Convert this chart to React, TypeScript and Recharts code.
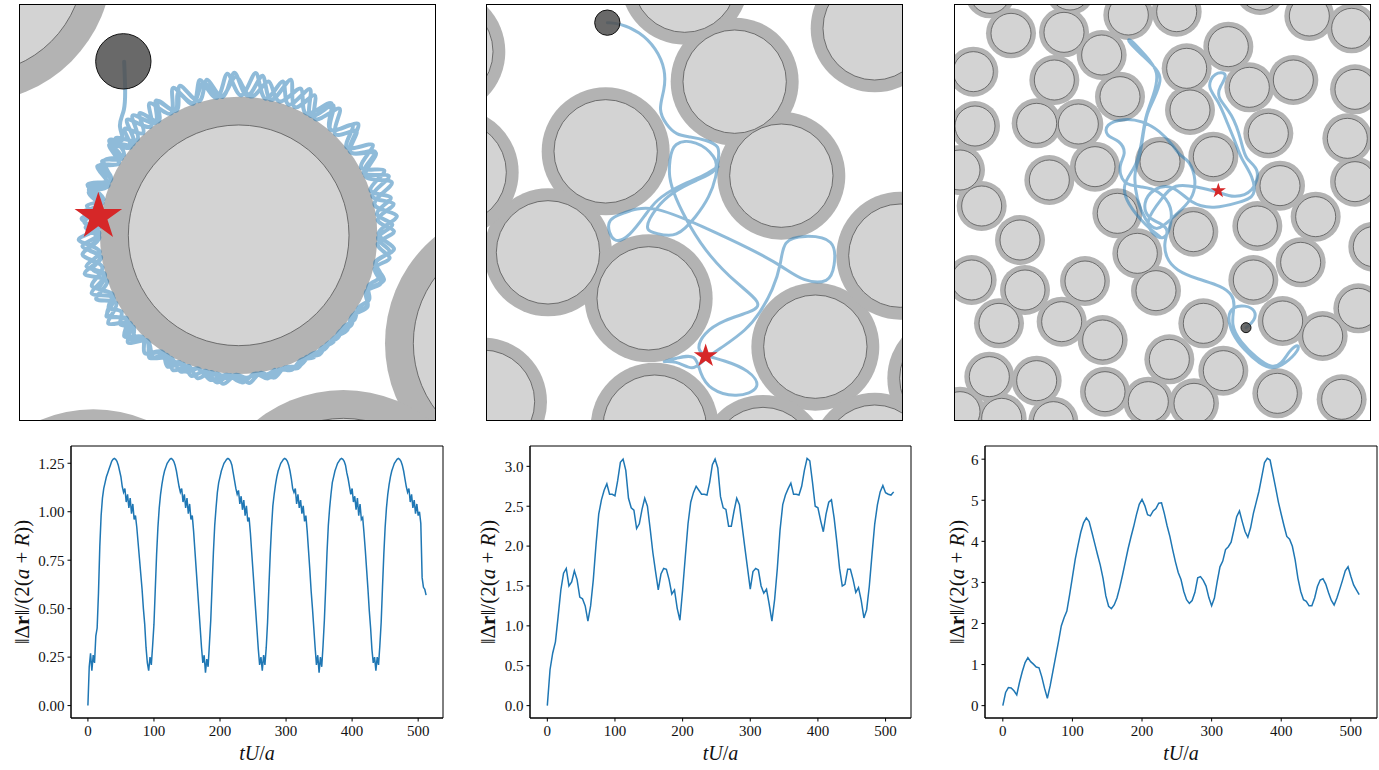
import { LineChart, Line, XAxis, YAxis, ScatterChart, Scatter, ReferenceArea } from "recharts";

const SERIF = '"Liberation Serif", "DejaVu Serif", serif';
const BLUE = "#1f77b4";

// ---- distance curves (bottom row) ----
// orbit case, sampled every 2 time units (t = 0..512)
const distOrbit = [
  0.00, 0.20, 0.27, 0.18, 0.26, 0.22, 0.36, 0.40, 0.58, 0.82,
  0.98, 1.07, 1.12, 1.15, 1.18, 1.20, 1.22, 1.24, 1.26, 1.27,
  1.275, 1.27, 1.26, 1.24, 1.21, 1.18, 1.13, 1.10, 1.12, 1.05,
  1.09, 1.02, 1.07, 0.99, 1.04, 0.96, 0.98, 0.92, 0.84, 0.76,
  0.68, 0.60, 0.50, 0.42, 0.30, 0.22,
  0.18, 0.25, 0.21, 0.31, 0.42, 0.60, 0.78, 0.92, 1.02, 1.09,
  1.14, 1.18, 1.21, 1.23, 1.25, 1.26, 1.27, 1.275, 1.27, 1.26,
  1.24, 1.21, 1.17, 1.13, 1.10, 1.12, 1.05, 1.09, 1.02, 1.07,
  0.99, 1.04, 0.96, 0.98, 0.90, 0.80, 0.70, 0.60, 0.50, 0.40,
  0.30, 0.22, 0.26,
  0.17, 0.24, 0.20, 0.32, 0.44, 0.62, 0.79, 0.93, 1.02, 1.10,
  1.15, 1.18, 1.21, 1.23, 1.25, 1.26, 1.27, 1.275, 1.27, 1.26,
  1.24, 1.20, 1.16, 1.12, 1.09, 1.11, 1.04, 1.08, 1.01, 1.06,
  0.98, 1.03, 0.95, 0.97, 0.89, 0.79, 0.69, 0.59, 0.49, 0.39,
  0.29, 0.21, 0.25,
  0.18, 0.26, 0.21, 0.30, 0.43, 0.61, 0.78, 0.92, 1.03, 1.09,
  1.14, 1.18, 1.21, 1.23, 1.25, 1.26, 1.27, 1.275, 1.27, 1.26,
  1.24, 1.21, 1.17, 1.12, 1.10, 1.12, 1.04, 1.09, 1.02, 1.06,
  0.99, 1.03, 0.95, 0.98, 0.90, 0.80, 0.70, 0.59, 0.50, 0.40,
  0.30, 0.21, 0.26,
  0.17, 0.25, 0.20, 0.31, 0.44, 0.61, 0.79, 0.93, 1.02, 1.09,
  1.15, 1.18, 1.21, 1.23, 1.25, 1.26, 1.27, 1.275, 1.27, 1.26,
  1.24, 1.20, 1.17, 1.13, 1.09, 1.12, 1.05, 1.08, 1.01, 1.07,
  0.98, 1.04, 0.96, 0.97, 0.89, 0.80, 0.70, 0.60, 0.49, 0.40,
  0.29, 0.22, 0.25,
  0.18, 0.25, 0.21, 0.31, 0.43, 0.61, 0.78, 0.92, 1.02, 1.09,
  1.14, 1.18, 1.21, 1.23, 1.25, 1.26, 1.27, 1.275, 1.27, 1.26,
  1.24, 1.21, 1.17, 1.13, 1.10, 1.12, 1.05, 1.09, 1.02, 1.06,
  0.99, 1.04, 0.98, 1.00, 0.94, 0.66, 0.61, 0.60, 0.57,
];

// channel and lattice cases, sampled every 4 time units (t = 0..512)
const distChannel = [
  0.00, 0.45, 0.66, 0.80, 1.12, 1.45, 1.66, 1.72, 1.50, 1.55,
  1.69, 1.58, 1.36, 1.34, 1.25, 1.06, 1.25, 1.58, 2.02, 2.40,
  2.58, 2.70, 2.78, 2.65, 2.65, 2.63, 2.82, 3.05, 3.09, 2.95,
  2.60, 2.48, 2.45, 2.22, 2.28, 2.46, 2.60, 2.50, 2.22, 1.92,
  1.68, 1.45, 1.65, 1.72, 1.71, 1.58, 1.40, 1.45, 1.22, 1.07,
  1.45, 1.87, 2.28, 2.55, 2.67, 2.75, 2.70, 2.65, 2.65, 2.64,
  2.80, 3.02, 3.09, 2.98, 2.62, 2.48, 2.46, 2.25, 2.25, 2.44,
  2.60, 2.52, 2.25, 1.98, 1.72, 1.46, 1.68, 1.72, 1.70, 1.50,
  1.41, 1.46, 1.27, 1.06, 1.33, 1.72, 2.20, 2.52, 2.64, 2.72,
  2.79, 2.65, 2.65, 2.64, 2.75, 2.95, 3.10, 3.07, 2.80, 2.50,
  2.48, 2.32, 2.18, 2.40, 2.55, 2.58, 2.35, 2.05, 1.72, 1.50,
  1.52, 1.71, 1.71, 1.58, 1.42, 1.48, 1.32, 1.10, 1.20, 1.50,
  1.90, 2.28, 2.52, 2.68, 2.76, 2.67, 2.65, 2.64, 2.68,
];

const distLattice = [
  0.00, 0.32, 0.44, 0.43, 0.36, 0.26, 0.57, 0.83, 1.05, 1.17,
  1.07, 1.01, 0.94, 0.92, 0.70, 0.42, 0.18, 0.48, 0.84, 1.20,
  1.56, 1.94, 2.14, 2.30, 2.70, 3.13, 3.56, 3.90, 4.22, 4.45,
  4.57, 4.48, 4.22, 3.95, 3.68, 3.42, 3.10, 2.67, 2.42, 2.36,
  2.45, 2.62, 2.88, 3.18, 3.50, 3.82, 4.10, 4.36, 4.65, 4.90,
  5.02, 4.87, 4.65, 4.62, 4.74, 4.80, 4.93, 4.94, 4.68, 4.38,
  4.12, 3.80, 3.50, 3.24, 3.07, 2.78, 2.58, 2.49, 2.56, 2.76,
  3.11, 3.14, 3.05, 2.91, 2.63, 2.43, 2.62, 3.02, 3.38, 3.52,
  3.80, 3.87, 3.98, 4.28, 4.60, 4.74, 4.48, 4.24, 4.10, 4.33,
  4.68, 4.95, 5.22, 5.57, 5.92, 6.02, 5.98, 5.64, 5.30, 4.95,
  4.66, 4.38, 4.12, 4.05, 3.88, 3.55, 3.10, 2.78, 2.58, 2.54,
  2.43, 2.43, 2.62, 2.90, 3.06, 3.09, 2.96, 2.75, 2.56, 2.45,
  2.62, 2.83, 3.05, 3.28, 3.38, 3.15, 2.94, 2.82, 2.70,
];

const timeTicks = [0, 100, 200, 300, 400, 500];
const orbitTicks = [0, 0.25, 0.5, 0.75, 1.0, 1.25];
const channelTicks = [0, 0.5, 1.0, 1.5, 2.0, 2.5, 3.0];
const latticeTicks = [0, 1, 2, 3, 4, 5, 6];

// ---- maps (top row), in image units (3 units per pixel, y downwards) ----
const orbitCentre = [716, 706];
const orbitObstacles = [[716, 706], [-80, -110], [1571, 1030], [1030, 1586], [280, 1644]];
const orbitSwimmer = [370, 184];
const orbitStar = [295, 650];
// trajectory read as (angle in degrees, distance from the obstacle centre)
const orbitPolar = [
  [123.4, 624], [127.4, 561], [132.5, 510], [137.5, 483], [141, 452],
  [144, 480], [149, 420], [154, 472], [159, 418], [164, 468], [169, 420], [174, 474], [179, 418], [184, 470], [189, 420],
  [194, 476], [199, 418], [204, 468], [209, 420], [214, 472], [219, 418], [224, 462], [229, 420], [234, 455], [239, 418],
  [244, 450], [249, 420], [254, 446], [259, 418], [264, 448], [269, 420], [274, 444], [279, 418], [284, 440], [289, 420],
  [294, 436], [299, 418], [304, 432], [309, 420], [314, 428], [319, 418], [324, 430], [329, 420], [334, 436], [339, 418],
  [344, 445], [349, 420], [354, 455], [359, 418], [364, 462], [369, 420], [374, 470], [379, 418], [384, 478], [389, 420],
  [394, 485], [399, 418], [404, 476], [409, 420], [414, 482], [419, 418], [424, 488], [429, 420], [434, 480], [439, 418],
  [444, 490], [449, 420], [454, 486], [459, 418], [464, 480], [469, 420], [474, 484], [479, 418], [484, 478], [489, 420],
  [494, 482], [499, 418], [504, 476],
  [506.5, 420], [511.5, 466], [516.5, 418], [521.5, 478], [526.5, 420], [531.5, 470], [536.5, 418], [541.5, 480],
  [546.5, 420], [551.5, 466], [556.5, 418], [561.5, 474], [566.5, 420], [571.5, 465], [576.5, 418], [581.5, 458],
  [586.5, 420], [591.5, 452], [596.5, 418], [601.5, 448], [606.5, 420], [611.5, 445], [616.5, 418], [621.5, 446],
  [626.5, 420], [631.5, 442], [636.5, 418], [641.5, 438], [646.5, 420], [651.5, 434], [656.5, 418], [661.5, 430],
  [666.5, 420], [671.5, 428], [676.5, 418], [681.5, 432], [686.5, 420], [691.5, 440], [696.5, 418], [701.5, 450],
  [706.5, 420], [711.5, 458], [716.5, 418], [721.5, 466], [726.5, 420], [731.5, 474], [736.5, 418], [741.5, 484],
  [746.5, 420], [751.5, 480], [756.5, 418], [761.5, 472], [766.5, 420], [771.5, 486], [776.5, 418], [781.5, 478],
  [786.5, 420], [791.5, 492], [796.5, 418], [801.5, 484], [806.5, 420], [811.5, 488], [816.5, 418], [821.5, 476],
  [826.5, 420], [831.5, 482], [836.5, 418], [841.5, 474], [846.5, 420], [851.5, 480], [856.5, 418], [861.5, 470],
  [865, 420], [871, 462], [877, 418], [883, 470], [889, 420], [895, 465], [901, 418], [907, 472], [913, 420],
  [919, 466], [925, 418], [931, 460], [937, 420], [943, 452], [949, 418], [955, 447], [961, 420], [967, 444],
  [973, 418], [979, 442], [985, 420], [991, 440], [997, 418], [1003, 436], [1009, 420], [1015, 432], [1021, 418],
  [1027, 428], [1033, 420], [1039, 432], [1045, 418], [1051, 442], [1057, 420], [1063, 456], [1069, 418], [1075, 468],
  [1081, 420], [1087, 478], [1093, 418], [1099, 486], [1105, 420], [1111, 480], [1117, 418], [1123, 490], [1129, 420],
  [1135, 484], [1141, 418], [1147, 478], [1153, 420], [1159, 470], [1165, 418], [1171, 476], [1177, 420], [1183, 470],
  [1189, 418], [1193, 465], [1197, 420], [1201, 470], [1205, 418], [1209, 472], [1213, 420], [1217, 468], [1221, 418],
  [1225, 474], [1229, 420], [1233, 466], [1237, 418], [1241, 470], [1245, 420], [1249, 464], [1253, 418], [1257, 460],
  [1261, 420], [1265, 455], [1269, 418], [1273, 450], [1277, 420], [1281, 447], [1285, 418], [1289, 446], [1293, 420],
  [1297, 444], [1301, 418], [1305, 445], [1309, 420], [1313, 442], [1317, 418], [1321, 440], [1325, 420], [1329, 438],
  [1333, 418], [1337, 434], [1341, 420], [1345, 430], [1349, 418], [1353, 428], [1357, 420], [1361, 426], [1365, 418],
];

const channelObstacles = [
  [645, -58], [795, 245], [1215, 85], [408, 454], [935, 527], [235, 757], [537, 895], [1037, 1040],
  [1292, 767], [-85, 155], [-45, 517], [40, 1205], [555, 1280], [880, 1377], [1215, 1370], [1445, 1135],
];
const channelSwimmer = [413, 68];
const channelStar = [708, 1068];
const channelPath = [
  [413, 68], [450, 70], [510, 95], [560, 145], [588, 210], [585, 270], [565, 330], [590, 375], [620, 405],
  [660, 410], [710, 420], [752, 438], [745, 480], [740, 530], [720, 590], [680, 650], [620, 715], [560, 700],
  [520, 690], [560, 620], [610, 575], [680, 540], [745, 515], [740, 470], [680, 420], [610, 425], [600, 480],
  [597, 530], [615, 590], [660, 680], [720, 770], [800, 850], [880, 910], [850, 935], [760, 960], [700, 1000],
  [680, 1050], [708, 1068], [760, 1080], [840, 1110], [880, 1165], [800, 1195], [720, 1170], [690, 1120],
  [680, 1060], [620, 1075], [565, 1088], [620, 1080], [670, 1115], [700, 1080], [760, 1040], [830, 990],
  [870, 940], [910, 870], [935, 790], [940, 720], [1000, 705], [1100, 715], [1095, 800], [1080, 850],
  [1000, 845], [940, 800], [850, 750], [700, 680], [540, 610], [460, 640], [405, 660], [430, 735], [480, 710],
  [530, 640], [560, 600], [620, 560], [700, 530], [745, 500],
];

const latticeObstacles = [
  [150, -20], [213, 100], [372, 97], [390, -30], [565, 45], [710, 35], [960, -30], [1108, 48], [1235, 85],
  [100, 215], [485, 165], [343, 240], [540, 290], [740, 205], [865, 140], [928, 262], [1060, 240], [1245, 268],
  [105, 378], [290, 370], [415, 372], [750, 330], [985, 400], [1222, 415], [60, 510], [465, 500], [660, 485],
  [820, 470], [1020, 557], [1245, 545], [125, 618], [328, 540], [532, 640], [760, 695], [952, 678], [1127, 650],
  [1300, 740], [240, 720], [592, 760], [95, 840], [255, 870], [435, 843], [648, 872], [940, 840], [1082, 787],
  [1255, 925], [177, 970], [365, 965], [488, 1020], [790, 970], [1028, 963], [1148, 1008], [688, 1078],
  [850, 1112], [148, 1130], [290, 1142], [495, 1175], [625, 1205], [762, 1210], [1012, 1180], [1205, 1198],
  [60, 1235], [185, 1255], [340, 1265],
];
const latticeSwimmer = [918, 983];
const latticeStar = [835, 572];
const latticePath = [
  [918, 983], [945, 962], [948, 930], [915, 915], [878, 920], [862, 948], [875, 1000], [912, 1050], [960, 1093],
  [998, 1108], [1035, 1092], [1078, 1050], [1075, 1030], [1048, 1052], [1025, 1092], [995, 1105], [950, 1075],
  [900, 1025], [872, 975], [885, 915], [878, 885], [845, 858], [775, 838], [708, 812], [676, 772], [672, 722],
  [688, 690], [660, 668], [622, 655], [608, 610], [638, 565], [700, 552], [752, 612], [820, 628], [905, 605],
  [948, 590], [940, 530], [902, 475], [888, 430], [862, 370], [835, 300], [800, 262], [822, 215], [868, 218],
  [838, 262], [830, 292], [878, 342], [905, 425], [915, 480], [962, 505], [942, 578], [880, 595], [835, 575],
  [770, 560], [702, 550], [668, 592], [612, 665], [640, 705], [672, 720], [690, 690], [700, 620], [655, 570],
  [610, 560], [545, 555], [535, 492], [560, 462], [540, 420], [497, 410], [495, 372], [552, 355], [605, 362],
  [660, 392], [702, 440], [722, 470], [748, 480], [770, 540], [758, 600], [700, 650], [650, 700], [615, 660],
  [590, 600], [580, 520], [600, 470], [610, 400], [620, 340], [642, 298], [665, 240], [655, 210], [600, 160],
  [560, 120], [570, 115], [615, 165], [660, 215], [640, 290], [615, 350], [605, 430], [590, 500], [545, 552],
  [560, 610], [620, 680], [660, 710],
];

const SPAN = 1245;
const BOX = 415;
const K = BOX / SPAN;

const toPts = (a: number[][]) => a.map(([x, y]) => ({ x, y }));
const orbitPath = orbitPolar.map(([deg, r]) => ({
  x: orbitCentre[0] + r * Math.cos((deg * Math.PI) / 180),
  y: orbitCentre[1] - r * Math.sin((deg * Math.PI) / 180),
}));

const starPolygon = (cx: number, cy: number, R: number) => {
  const pts: string[] = [];
  for (let i = 0; i < 10; i++) {
    const r = i % 2 === 0 ? R : R * 0.382;
    const a = -Math.PI / 2 + (i * Math.PI) / 5;
    pts.push(`${cx + r * Math.cos(a)},${cy + r * Math.sin(a)}`);
  }
  return pts.join(" ");
};

function MapPanel(props: any) {
  const { left, x0, obstacles, ringR, discR, path, curve, lineW, swimmer, swimmerR, star, starR } = props;
  const ring = (p: any) => <circle cx={p.cx} cy={p.cy} r={ringR * K} fill="#b3b3b3" />;
  const disc = (p: any) => (
    <circle cx={p.cx} cy={p.cy} r={discR * K} fill="#d3d3d3" stroke="#555" strokeWidth={0.8} />
  );
  const body = (p: any) => (
    <circle cx={p.cx} cy={p.cy} r={swimmerR * K} fill="#4f4f4f" fillOpacity={0.85} stroke="#111" strokeWidth={1} />
  );
  const mark = (p: any) => <polygon points={starPolygon(p.cx, p.cy, starR)} fill="#d62728" />;
  return (
    <div style={{ position: "absolute", left: left - 1, top: 4, width: BOX, height: BOX, border: "1px solid #000" }}>
      <ScatterChart width={BOX} height={BOX} margin={{ top: 0, right: 0, bottom: 0, left: 0 }}>
        <XAxis type="number" dataKey="x" domain={[x0, x0 + SPAN]} hide allowDataOverflow />
        <YAxis type="number" dataKey="y" domain={[15, 15 + SPAN]} reversed hide allowDataOverflow />
        <Scatter data={toPts(obstacles)} shape={ring} isAnimationActive={false} />
        <Scatter data={toPts(obstacles)} shape={disc} isAnimationActive={false} />
        <Scatter
          data={path}
          shape={() => <g />}
          line={{ stroke: BLUE, strokeOpacity: 0.5, strokeWidth: lineW, strokeLinejoin: "round", strokeLinecap: "round" }}
          lineJointType={curve}
          isAnimationActive={false}
        />
        <Scatter data={toPts([swimmer])} shape={body} isAnimationActive={false} />
        <Scatter data={toPts([star])} shape={mark} isAnimationActive={false} />
      </ScatterChart>
    </div>
  );
}

const YLabel = (props: any) => {
  const vb = props.viewBox || {};
  const cx = (vb.x || 0) + props.dx;
  const cy = (vb.y || 0) + (vb.height || 0) / 2;
  return (
    <text x={cx} y={cy} transform={`rotate(-90 ${cx} ${cy})`} textAnchor="middle" dominantBaseline="central"
      fontFamily={SERIF} fontSize={21} fill="#111">
      ‖Δ<tspan fontWeight="bold">r</tspan>‖/(2(<tspan fontStyle="italic">a</tspan>{" + "}<tspan fontStyle="italic">R</tspan>))
    </text>
  );
};

const XLabel = (props: any) => {
  const vb = props.viewBox || {};
  const cx = (vb.x || 0) + (vb.width || 0) / 2;
  const cy = (vb.y || 0) + 35;
  return (
    <text x={cx} y={cy} textAnchor="middle" dominantBaseline="central" fontFamily={SERIF} fontSize={20} fill="#111">
      <tspan fontStyle="italic">tU</tspan>/<tspan fontStyle="italic">a</tspan>
    </text>
  );
};

const tickStyle = { fill: "#111", fontSize: 15, fontFamily: SERIF };

function DistPanel(props: any) {
  const { left, width, yWidth, right, values, step, domain, ticks, digits, labelDx } = props;
  const rows = values.map((v: number, i: number) => ({ t: i * step, v }));
  return (
    <div style={{ position: "absolute", left, top: 440 }}>
      <LineChart width={width} height={330} data={rows} margin={{ top: 6, right, bottom: 0, left: 0 }}>
        <XAxis dataKey="t" type="number" domain={[-25.6, 537.6]} ticks={timeTicks} allowDataOverflow
          height={52} tickSize={3.5} tickMargin={4} stroke="#000" tick={tickStyle} label={<XLabel />} />
        <YAxis type="number" domain={domain} ticks={ticks} allowDataOverflow width={yWidth} tickSize={3.5}
          tickMargin={3} stroke="#000" tick={tickStyle} tickFormatter={(v: number) => v.toFixed(digits)}
          label={<YLabel dx={labelDx} />} />
        <ReferenceArea x1={-25.6} x2={537.6} y1={domain[0]} y2={domain[1]} fill="none" stroke="#000"
          strokeWidth={1} ifOverflow="visible" />
        <Line dataKey="v" type="linear" stroke={BLUE} strokeWidth={1.5} dot={false} isAnimationActive={false} />
      </LineChart>
    </div>
  );
}

export default function App() {
  return (
    <div style={{ position: "absolute", left: 0, top: 0, width: 1379, height: 770, background: "#fff" }}>
      <MapPanel left={20} x0={60} obstacles={orbitObstacles} ringR={416} discR={331} path={orbitPath}
        curve="natural" lineW={4} swimmer={orbitSwimmer} swimmerR={83} star={orbitStar} starR={25} />
      <MapPanel left={487} x0={52} obstacles={channelObstacles} ringR={192} discR={155} path={toPts(channelPath)}
        curve="basis" lineW={3} swimmer={channelSwimmer} swimmerR={38} star={channelStar} starR={12.5} />
      <MapPanel left={955} x0={45} obstacles={latticeObstacles} ringR={75} discR={60} path={toPts(latticePath)}
        curve="basis" lineW={3} swimmer={latticeSwimmer} swimmerR={15} star={latticeStar} starR={8} />

      <DistPanel left={0} width={460} yWidth={71} right={17} values={distOrbit} step={2}
        domain={[-0.064, 1.339]} ticks={orbitTicks} digits={2} labelDx={22} />
      <DistPanel left={460} width={460} yWidth={70} right={9} values={distChannel} step={4}
        domain={[-0.155, 3.255]} ticks={channelTicks} digits={1} labelDx={28} />
      <DistPanel left={920} width={459} yWidth={65} right={2} values={distLattice} step={4}
        domain={[-0.301, 6.321]} ticks={latticeTicks} digits={0} labelDx={37} />
    </div>
  );
}
